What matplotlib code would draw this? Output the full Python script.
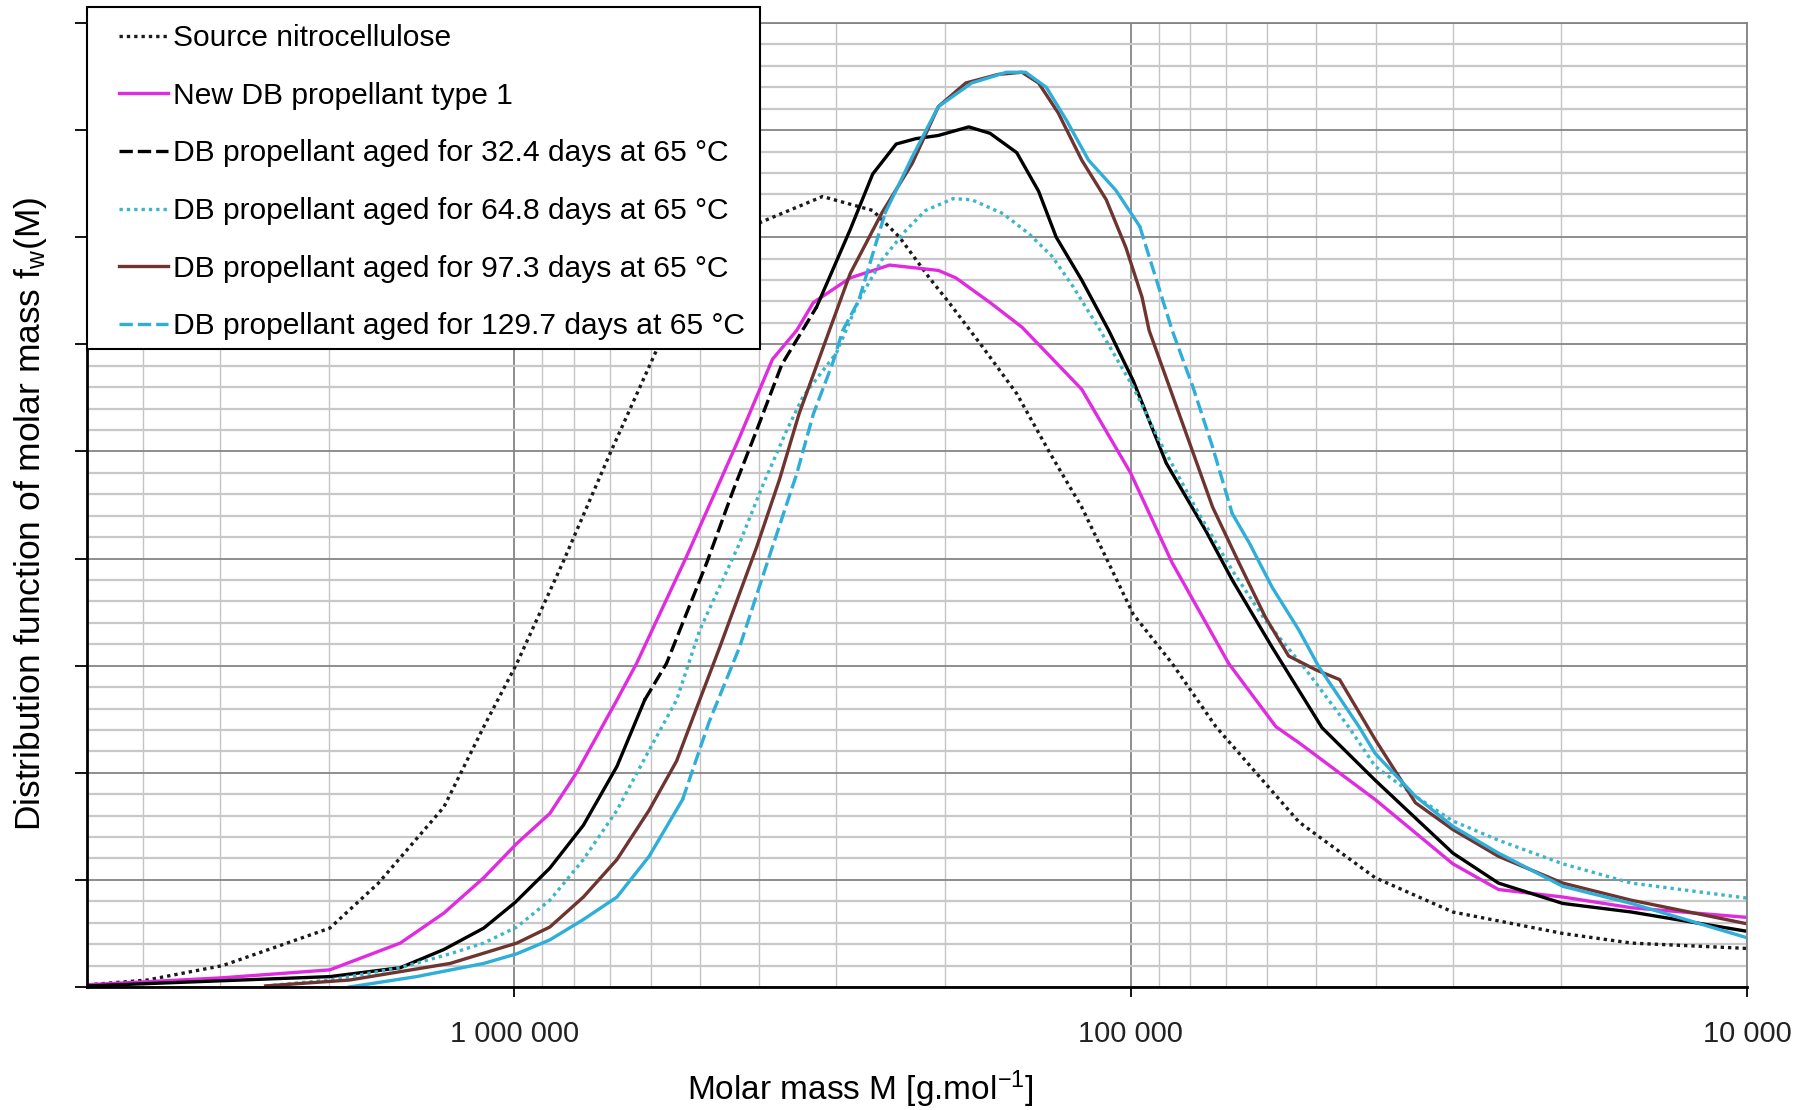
import numpy as np
import matplotlib
matplotlib.use("Agg")
import matplotlib.pyplot as plt
from matplotlib.lines import Line2D
from matplotlib.patches import Rectangle
from matplotlib.ticker import LogLocator, MultipleLocator, FuncFormatter, NullFormatter

plt.rcParams['font.family'] = ['Liberation Sans', 'DejaVu Sans']
plt.rcParams['mathtext.default'] = 'regular'

# molar mass [g/mol] and distribution value (arbitrary units, one unit = one major grid step)
source_m = [4.93e6, 3.94e6, 2.97e6, 1.99e6, 1.66e6, 1.30e6, 1.12e6, 9.9e5, 8.34e5, 6.99e5,
            5.88e5, 4.91e5, 3.98e5, 3.16e5, 2.62e5, 2.37e5, 2.12e5, 1.97e5, 1.74e5, 1.53e5,
            1.35e5, 1.20e5, 9.9e4, 8.56e4, 7.27e4, 5.33e4, 4.01e4, 3.0e4, 1.99e4, 1.54e4, 1.0e4]
source_y = [0.02, 0.065, 0.20, 0.55, 0.97, 1.68, 2.43, 3.02, 3.96, 4.98,
            5.94, 6.62, 7.14, 7.38, 7.25, 7.00, 6.62, 6.39, 5.98, 5.54,
            4.98, 4.48, 3.48, 3.02, 2.43, 1.54, 1.02, 0.70, 0.50, 0.41, 0.36]

magenta_m = [4.93e6, 2.97e6, 1.99e6, 1.53e6, 1.30e6, 1.12e6, 9.9e5, 8.75e5, 7.92e5, 6.81e5,
             6.33e5, 5.26e5, 4.76e5, 4.31e5, 3.81e5, 3.48e5, 3.27e5, 2.85e5, 2.46e5, 2.05e5,
             1.92e5, 1.69e5, 1.50e5, 1.20e5, 1.0e5, 8.56e4, 6.93e4, 5.81e4, 5.33e4, 4.01e4,
             3.0e4, 2.53e4, 1.99e4, 1.54e4, 1.0e4]
magenta_y = [0.02, 0.086, 0.16, 0.41, 0.69, 1.02, 1.34, 1.62, 2.00, 2.68,
             3.02, 4.01, 4.57, 5.13, 5.86, 6.13, 6.39, 6.62, 6.74, 6.69,
             6.62, 6.39, 6.16, 5.58, 4.80, 3.96, 3.02, 2.43, 2.28, 1.75,
             1.15, 0.91, 0.84, 0.74, 0.65]

black_m = [4.93e6, 1.99e6, 1.53e6, 1.30e6, 1.12e6, 9.96e5, 8.75e5, 7.72e5, 6.81e5, 6.14e5,
           5.66e5, 4.87e5, 4.41e5, 4.04e5, 3.68e5, 3.23e5, 2.85e5, 2.62e5, 2.40e5, 2.23e5,
           2.05e5, 1.83e5, 1.69e5, 1.53e5, 1.41e5, 1.32e5, 1.20e5, 1.085e5, 9.9e4, 8.75e4,
           7.55e4, 6.84e4, 5.89e4, 4.89e4, 4.01e4, 3.0e4, 2.53e4, 1.99e4, 1.54e4, 1.0e4]
black_y = [0.01, 0.097, 0.18, 0.35, 0.55, 0.79, 1.11, 1.51, 2.06, 2.68,
           3.02, 3.96, 4.64, 5.20, 5.81, 6.35, 7.07, 7.59, 7.87, 7.92,
           7.95, 8.03, 7.97, 7.79, 7.43, 7.00, 6.60, 6.13, 5.66, 4.89,
           4.26, 3.80, 3.17, 2.42, 1.93, 1.25, 0.97, 0.78, 0.70, 0.52]

cdot_m = [2.53e6, 1.99e6, 1.53e6, 1.27e6, 1.12e6, 9.9e5, 8.75e5, 7.72e5, 6.81e5, 6.04e5,
          5.45e5, 5.0e5, 4.31e5, 3.96e5, 3.61e5, 3.40e5, 3.0e5, 2.76e5, 2.53e5, 2.31e5,
          2.15e5, 1.94e5, 1.81e5, 1.61e5, 1.46e5, 1.34e5, 1.24e5, 1.12e5, 9.9e4, 8.98e4,
          7.75e4, 6.84e4, 6.04e4, 5.19e4, 4.43e4, 4.01e4, 3.45e4, 3.0e4, 2.53e4, 1.99e4,
          1.54e4, 1.0e4]
cdot_y = [0.01, 0.065, 0.18, 0.31, 0.41, 0.56, 0.81, 1.19, 1.65, 2.21,
          2.68, 3.33, 4.14, 4.67, 5.20, 5.51, 5.92, 6.41, 6.79, 7.07,
          7.25, 7.36, 7.35, 7.22, 7.03, 6.82, 6.54, 6.13, 5.60, 5.10,
          4.42, 3.89, 3.42, 2.96, 2.43, 2.06, 1.78, 1.55, 1.37, 1.15,
          0.97, 0.83]

brown_m = [2.53e6, 1.85e6, 1.27e6, 9.9e5, 8.75e5, 7.72e5, 6.81e5, 6.04e5, 5.45e5, 5.0e5,
           4.64e5, 4.04e5, 3.71e5, 3.45e5, 3.08e5, 2.85e5, 2.53e5, 2.26e5, 2.05e5, 1.85e5,
           1.64e5, 1.50e5, 1.41e5, 1.31e5, 1.20e5, 1.095e5, 1.017e5, 9.58e4, 9.33e4, 8.34e4,
           7.36e4, 6.67e4, 6.04e4, 5.54e4, 5.0e4, 4.58e4, 4.01e4, 3.45e4, 3.0e4, 2.53e4,
           1.99e4, 1.54e4, 1.0e4]
brown_y = [0.01, 0.065, 0.22, 0.41, 0.56, 0.84, 1.19, 1.65, 2.11, 2.68,
           3.17, 4.11, 4.74, 5.35, 6.13, 6.66, 7.23, 7.69, 8.22, 8.44,
           8.52, 8.54, 8.44, 8.16, 7.72, 7.35, 6.90, 6.44, 6.13, 5.35,
           4.48, 3.96, 3.45, 3.09, 2.96, 2.87, 2.31, 1.72, 1.47, 1.22,
           0.97, 0.81, 0.59]

cyan_m = [1.85e6, 1.44e6, 1.12e6, 9.9e5, 8.75e5, 7.72e5, 6.81e5, 6.04e5, 5.33e5, 4.83e5,
          4.31e5, 3.86e5, 3.48e5, 3.27e5, 3.04e5, 2.93e5, 2.76e5, 2.50e5, 2.26e5, 2.05e5,
          1.81e5, 1.59e5, 1.48e5, 1.37e5, 1.27e5, 1.17e5, 1.057e5, 9.66e4, 9.33e4, 8.56e4,
          7.92e4, 7.36e4, 6.84e4, 6.41e4, 5.89e4, 5.33e4, 4.95e4, 4.26e4, 4.01e4, 3.45e4,
          3.0e4, 2.53e4, 1.99e4, 1.54e4, 1.0e4]
cyan_y = [0.0, 0.097, 0.22, 0.31, 0.44, 0.63, 0.84, 1.22, 1.75, 2.47,
          3.17, 4.01, 4.79, 5.35, 5.83, 6.13, 6.41, 7.23, 7.75, 8.22,
          8.44, 8.54, 8.54, 8.40, 8.09, 7.72, 7.44, 7.10, 6.82, 6.13,
          5.60, 5.04, 4.42, 4.14, 3.73, 3.33, 2.99, 2.43, 2.18, 1.78,
          1.50, 1.25, 0.94, 0.78, 0.46]

labels = ["Source nitrocellulose",
          "New DB propellant type 1",
          "DB propellant aged for 32.4 days at 65 °C",
          "DB propellant aged for 64.8 days at 65 °C",
          "DB propellant aged for 97.3 days at 65 °C",
          "DB propellant aged for 129.7 days at 65 °C"]

DOT = (0, (1, 1.2))
DASH = (0, (4, 1.5))
LW = 2.4

# (m, y, colour, linestyle, ranges of M where the line shows as dashed)
series = [
    (source_m, source_y, '#1a1a1a', DOT, None),
    (magenta_m, magenta_y, '#E02BE0', '-', None),
    (black_m, black_y, '#000000', DASH, [(6.6e5, 2.87e5)]),
    (cdot_m, cdot_y, '#3DB6C9', DOT, None),
    (brown_m, brown_y, '#6E3530', '-', None),
    (cyan_m, cyan_y, '#2EAED8', DASH, [(5.4e5, 2.5e5), (1.0e5, 6.8e4)]),
]


def runs(m, ranges):
    """split the curve in runs: dashed where inside ranges, solid elsewhere"""
    m = np.asarray(m)
    flags = np.zeros(len(m), bool)
    for hi, lo in ranges:
        flags |= (m <= hi) & (m >= lo)
    seg = flags[:-1] & flags[1:]
    k = 0
    while k < len(seg):
        j = k
        while j + 1 < len(seg) and seg[j + 1] == seg[k]:
            j += 1
        yield slice(k, j + 2), seg[k]
        k = j + 1


W, H = 1812, 1110
fig = plt.figure(figsize=(W / 100, H / 100), dpi=100)
ax = fig.add_axes([87 / W, 1 - 987 / H, 1660 / W, 964 / H])

handles = []
for m, y, c, ls, dash in series:
    m = np.asarray(m)
    y = np.asarray(y)
    if dash is None:
        ax.plot(m, y, color=c, ls=ls, lw=LW)
    else:
        for sl, is_dash in runs(m, dash):
            ax.plot(m[sl], y[sl], color=c, ls=ls if is_dash else '-', lw=LW)
    handles.append(Line2D([], [], color=c, ls=ls, lw=LW))

ax.set_xscale('log')
ax.set_xlim(4.93e6, 1e4)
ax.set_ylim(0, 9)

ax.xaxis.set_major_locator(LogLocator(base=10, subs=(1.0,)))
ax.xaxis.set_minor_locator(LogLocator(base=10, subs=np.arange(2, 10)))
ax.xaxis.set_major_formatter(FuncFormatter(lambda v, p: f"{int(round(v)):,}".replace(",", " ")))
ax.xaxis.set_minor_formatter(NullFormatter())
ax.yaxis.set_major_locator(MultipleLocator(1))
ax.yaxis.set_minor_locator(MultipleLocator(0.2))

ax.set_axisbelow(True)
ax.grid(which='major', axis='both', color='#858585', lw=1.3)
ax.grid(which='minor', axis='y', color='#c8c8c8', lw=1.6)
ax.grid(which='minor', axis='x', color='#c4c4c4', lw=1.0)

ax.tick_params(axis='x', which='major', direction='out', length=7, width=1.3,
               labelsize=21, pad=17, colors='black', labelcolor='#222222')
ax.tick_params(axis='y', which='major', direction='out', length=9, width=1.3, labelleft=False)
ax.tick_params(which='minor', length=0)

for s in ['left', 'bottom']:
    ax.spines[s].set_color('black')
    ax.spines[s].set_linewidth(2)
for s in ['top', 'right']:
    ax.spines[s].set_color('#858585')
    ax.spines[s].set_linewidth(1.3)

ax.set_xlabel(r"Molar mass M [g.mol$^{-1}$]", fontsize=24, va='center')
ax.xaxis.set_label_coords(0.466, (987 - 1089) / 964)
ax.set_ylabel(r"Distribution function of molar mass f$_w$(M)", fontsize=25.5, va='center')
ax.yaxis.set_label_coords((31 - 87) / 1660, (987 - 514) / 964)

# legend box (drawn separately so the left padding can be wider than the right one)
box = Rectangle((87 / W, 1 - 349 / H), (760 - 87) / W, (349 - 7) / H,
                transform=fig.transFigure, facecolor='white', edgecolor='black',
                lw=1.5, zorder=4.5, clip_on=False)
ax.add_patch(box)
leg = ax.legend(handles, labels, loc='upper left',
                bbox_to_anchor=(119 / W, 1 - 24 / H), bbox_transform=fig.transFigure,
                borderaxespad=0, fontsize=21.6, handlelength=1.62, handletextpad=0.18,
                labelspacing=0.99, borderpad=0, frameon=False)
leg.set_zorder(5)

fig.savefig("out.png", dpi=100, facecolor='white')
